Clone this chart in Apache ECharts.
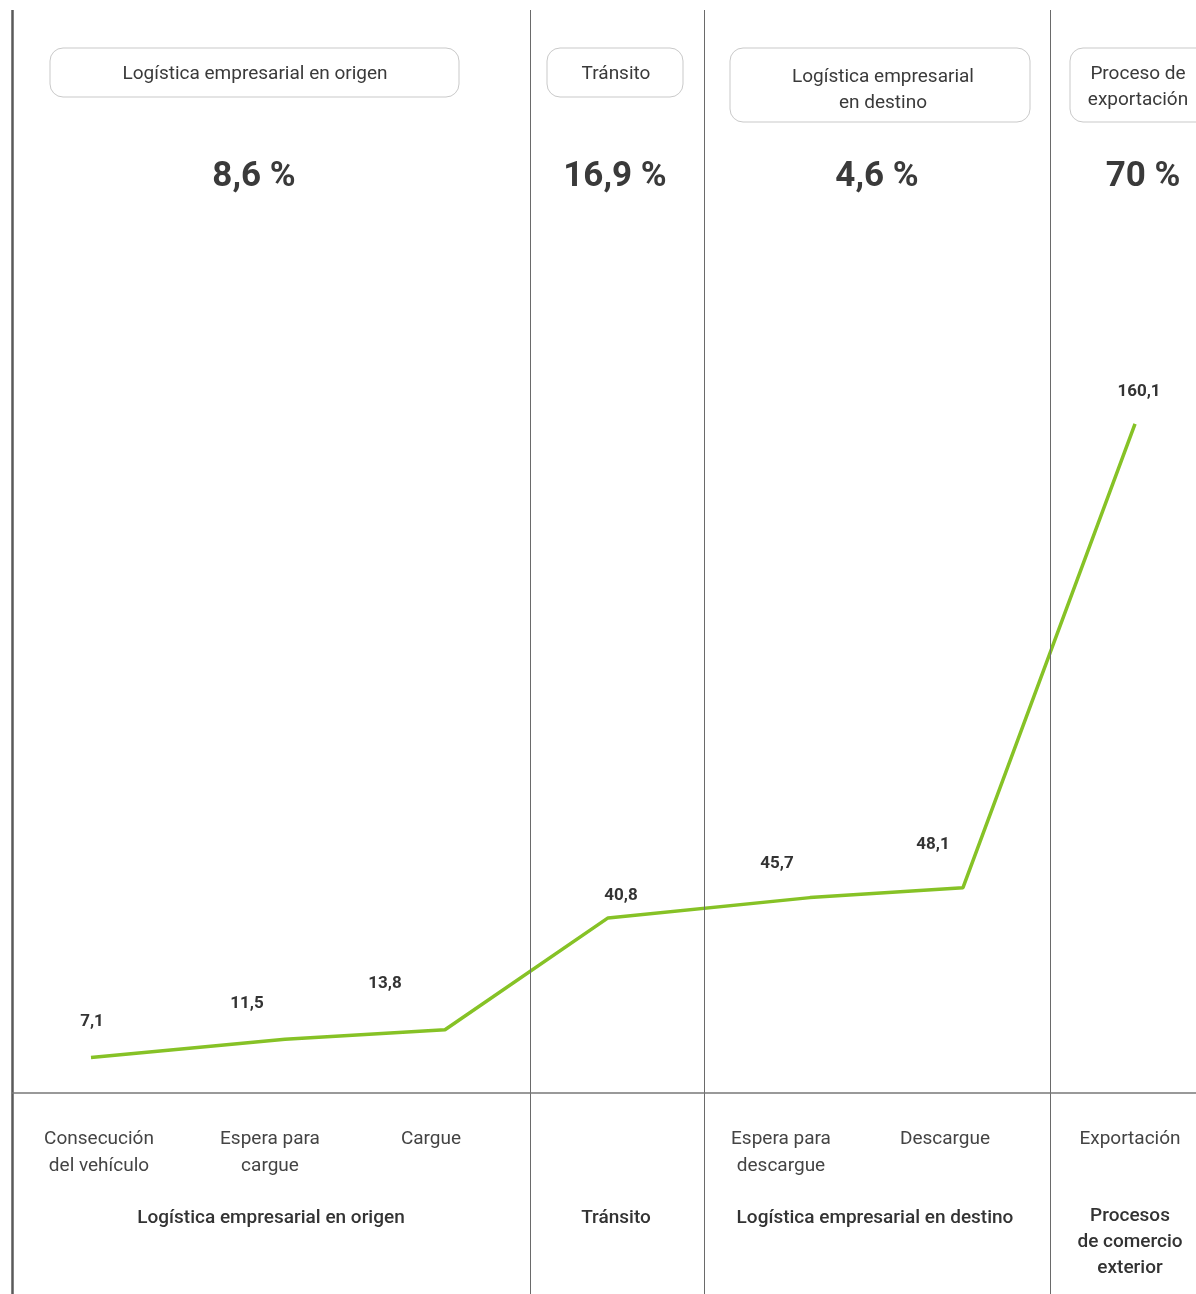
<!DOCTYPE html>
<html>
<head>
<meta charset="utf-8">
<script src="https://cdn.jsdelivr.net/npm/echarts@6/dist/echarts.min.js"></script>
<style>
  html, body { margin: 0; padding: 0; background: #fff; }
  #chart { width: 1196px; height: 1294px; }
</style>
</head>
<body>
<div id="chart"></div>
<script>
// tiempos acumulados por etapa (horas)
const stageNames = ['Consecución\ndel vehículo', 'Espera para\ncargue', 'Cargue', 'Tránsito', 'Espera para\ndescargue', 'Descargue', 'Exportación'];
const cumulative = [7.1, 11.5, 13.8, 40.8, 45.7, 48.1, 160.1];
// posición de cada etapa sobre el eje horizontal (0-100)
const stagePos = [6.67, 23.06, 36.57, 50.34, 67.4, 80.32, 94.85];
// límites entre grupos de etapas
const groupBounds = [0, 43.75, 58.45, 87.67];
const headerNames = ['Logística empresarial en origen', 'Tránsito', 'Logística empresarial\nen destino', 'Proceso de\nexportación'];
const groupShares = [8.6, 16.9, 4.6, 70];
const groupNames = ['Logística empresarial en origen', 'Tránsito', 'Logística empresarial en destino', 'Procesos\nde comercio\nexterior'];

const FONT = 'Roboto, "Noto Sans", sans-serif';
const fmt = v => String(v).replace('.', ',');

// desplazamiento de las etiquetas respecto al punto
const labelOffsets = [[1, -22], [-38, -22], [-60, -32], [13, -8], [-33, -20], [-30, -29], [4, -18]];

const chart = echarts.init(document.getElementById('chart'));

const seriesData = cumulative.map((v, i) => ({
    value: [stagePos[i], v],
    label: { offset: labelOffsets[i] }
}));

// cajas de encabezado
const headerBoxes = [
    { x: 50, w: 409, h: 49, cx: 255 },
    { x: 547, w: 136, h: 49, cx: 616 },
    { x: 730, w: 300, h: 74, cx: 883 },
    { x: 1070, w: 140, h: 74, cx: 1138 }
];
const shareCenters = [254, 615, 877, 1143];
const stageLabelX = [99, 270, 431, null, 781, 945, 1130];
const groupLabelX = [271, 616, 875, 1130];

const graphics = [];
headerBoxes.forEach((b, i) => {
    graphics.push({
        type: 'rect', shape: { x: b.x, y: 48, width: b.w, height: b.h, r: 13 },
        style: { fill: '#fff', stroke: '#c9c9c9', lineWidth: 1 }, z: 10
    });
    const lines = headerNames[i].split('\n').length;
    graphics.push({
        type: 'text', x: b.cx, y: lines === 1 ? 74 : (i === 3 ? 87 : 90), z: 11,
        style: { text: headerNames[i], font: '19px ' + FONT, fill: '#3a3a3a', align: 'center', verticalAlign: 'middle', lineHeight: 26 }
    });
    graphics.push({
        type: 'text', x: shareCenters[i], y: 177, z: 11,
        style: { text: fmt(groupShares[i]) + ' %', font: 'bold 35px ' + FONT, fill: '#3a3a3a', align: 'center', verticalAlign: 'middle' }
    });
});
stageNames.forEach((name, i) => {
    if (stageLabelX[i] === null) return;
    graphics.push({
        type: 'text', x: stageLabelX[i], y: 1126, z: 11,
        style: { text: name, font: '19px ' + FONT, fill: '#444', align: 'center', verticalAlign: 'top', lineHeight: 27 }
    });
});
groupNames.forEach((name, i) => {
    const lines = name.split('\n').length;
    graphics.push({
        type: 'text', x: groupLabelX[i], y: lines === 1 ? 1218 : 1242, z: 11,
        style: { text: name, font: '500 19px ' + FONT, fill: '#333', align: 'center', verticalAlign: 'middle', lineHeight: 26 }
    });
});

chart.setOption({
    animation: false,
    grid: { left: 12, right: 0, top: 10, bottom: 0 },
    xAxis: { type: 'value', min: 0, max: 100, show: false },
    yAxis: { type: 'value', min: -50, max: 260, show: false },
    graphic: graphics,
    series: [{
        type: 'line',
        data: seriesData,
        showSymbol: true,
        symbol: 'circle',
        symbolSize: 1,
        itemStyle: { color: 'rgba(0,0,0,0)' },
        lineStyle: { color: '#86c226', width: 3.5 },
        label: {
            show: true, position: 'top',
            formatter: p => fmt(p.value[1]),
            fontFamily: FONT, fontWeight: 'bold', fontSize: 17, color: '#333'
        },
        markLine: {
            silent: true, symbol: 'none', label: { show: false },
            data: [
                ...groupBounds.map((b, i) => ({ xAxis: b, lineStyle: { color: i === 0 ? '#5a5a5a' : '#6a6a6a', width: i === 0 ? 2.5 : 1, type: 'solid' } })),
                { yAxis: -1.5, lineStyle: { color: '#777', width: 1.5, type: 'solid' } }
            ]
        }
    }]
});
</script>
</body>
</html>
